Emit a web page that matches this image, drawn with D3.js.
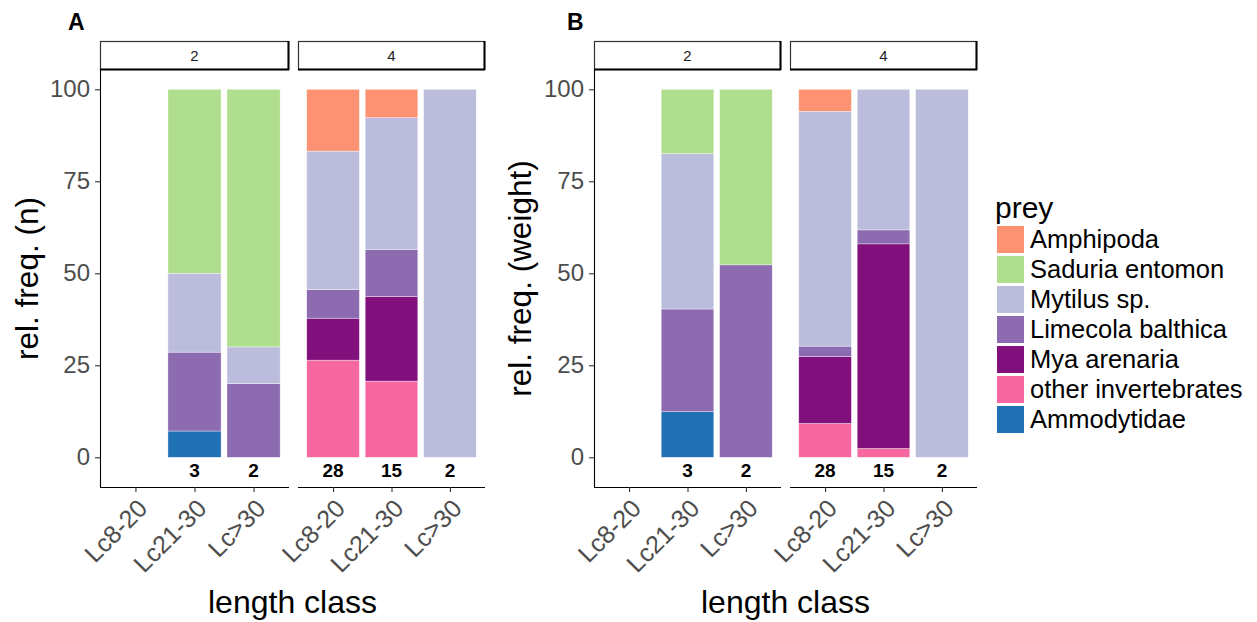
<!DOCTYPE html>
<html>
<head>
<meta charset="utf-8">
<script src="https://cdn.jsdelivr.net/npm/d3@7"></script>
<style>
  html, body { margin: 0; padding: 0; background: #ffffff; }
  svg { display: block; font-family: "Liberation Sans", Arial, sans-serif; }
</style>
</head>
<body>
<svg id="chart" width="1257" height="622"></svg>
<script>
// Length classes on the x axis and the two facets (strip labels)
const lengthClasses = ["Lc8-20", "Lc21-30", "Lc>30"];
const facetLabels = ["2", "4"];

// Prey categories, legend order (first one sits on top of each stack)
const preyTypes = ["Amphipoda", "Saduria entomon", "Mytilus sp.", "Limecola balthica",
                   "Mya arenaria", "other invertebrates", "Ammodytidae"];
const preyColors = ["#FC9272", "#AFDE8E", "#BCBDDC", "#8C6BB1", "#810F7C", "#F768A1", "#2171B5"];

// Sample sizes printed under each bar
const countsFacet2 = [null, 3, 2];
const countsFacet4 = [28, 15, 2];

// Relative frequency by number (%), one row per length class, columns follow preyTypes
const freqN_facet2 = [
  null,
  [0, 50, 21.43, 21.43, 0, 0, 7.14],
  [0, 70, 10, 20, 0, 0, 0]
];
const freqN_facet4 = [
  [16.8, 0, 37.6, 7.8, 11.4, 26.4, 0],
  [7.7, 0, 35.8, 12.8, 23.0, 20.7, 0],
  [0, 0, 100, 0, 0, 0, 0]
];

// Relative frequency by weight (%)
const freqW_facet2 = [
  null,
  [0, 17.5, 42.2, 27.9, 0, 0, 12.4],
  [0, 47.7, 0, 52.3, 0, 0, 0]
];
const freqW_facet4 = [
  [6.0, 0, 63.8, 2.8, 18.2, 9.2, 0],
  [0, 0, 38.2, 3.8, 55.6, 2.4, 0],
  [0, 0, 100, 0, 0, 0, 0]
];

const yTicks = [0, 25, 50, 75, 100];

const svg = d3.select("#chart");
const color = d3.scaleOrdinal().domain(preyTypes).range(preyColors);

// Shared vertical geometry
const stripTop = 41, stripBottom = 70, panelBottom = 487;
const y = d3.scaleLinear().domain([0, 100]).range([457.3, 89.3]);

function drawPanel(cfg) {
  const g = svg.append("g");

  // panel tag (A / B)
  g.append("text").attr("x", cfg.tagX).attr("y", 30)
    .attr("font-size", 23).attr("font-weight", "bold").attr("fill", "#000")
    .text(cfg.tag);

  cfg.facets.forEach((f, fi) => {
    const [x0, x1] = f.range;
    const x = d3.scalePoint().domain(lengthClasses).range([x0, x1]).padding(0.6);
    const bw = x.step() * 0.9;

    // strip
    const sg = g.append("g");
    sg.append("rect").attr("x", x0 + 0.5).attr("y", stripTop + 0.5)
      .attr("width", x1 - x0 - 1).attr("height", stripBottom - stripTop - 1)
      .attr("fill", "#ffffff").attr("stroke", "#333").attr("stroke-width", 1.2);
    sg.append("line").attr("x1", x1 - 0.5).attr("x2", x1 - 0.5)
      .attr("y1", stripTop).attr("y2", stripBottom)
      .attr("stroke", "#000").attr("stroke-width", 2);
    sg.append("line").attr("x1", x0).attr("x2", x1)
      .attr("y1", stripBottom - 0.5).attr("y2", stripBottom - 0.5)
      .attr("stroke", "#000").attr("stroke-width", 2);
    sg.append("text").attr("x", (x0 + x1) / 2).attr("y", (stripTop + stripBottom) / 2)
      .attr("dy", "0.35em").attr("text-anchor", "middle")
      .attr("font-size", 15).attr("fill", "#1a1a1a").text(facetLabels[fi]);

    // stacked bars: bottom is the last prey type
    const rows = [];
    f.values.forEach((v, i) => {
      if (!v) return;
      const row = { lc: lengthClasses[i] };
      preyTypes.forEach((p, j) => row[p] = v[j]);
      rows.push(row);
    });
    const stack = d3.stack().keys(preyTypes.slice().reverse());
    const series = stack(rows);
    const bars = g.append("g");
    series.forEach(s => {
      bars.selectAll(null).data(s.filter(d => d[1] - d[0] > 0)).enter().append("rect")
        .attr("x", d => x(d.data.lc) - bw / 2)
        .attr("width", bw)
        .attr("y", d => y(d[1]))
        .attr("height", d => y(d[0]) - y(d[1]))
        .attr("fill", color(s.key))
        .attr("stroke", "#ffffff").attr("stroke-opacity", 0.6).attr("stroke-width", 0.6);
    });

    // counts under bars
    g.append("g").selectAll("text").data(f.counts.map((c, i) => ({ c, lc: lengthClasses[i] })).filter(d => d.c !== null))
      .enter().append("text")
      .attr("x", d => x(d.lc)).attr("y", 470).attr("dy", "0.35em")
      .attr("text-anchor", "middle").attr("font-size", 19).attr("font-weight", "bold")
      .attr("fill", "#000").text(d => d.c);

    // x axis
    const xa = g.append("g").attr("transform", `translate(0,${panelBottom})`)
      .call(d3.axisBottom(x).tickSize(5).tickSizeOuter(0));
    xa.select(".domain").attr("stroke", "#000").attr("stroke-width", 1.1)
      .attr("d", `M${x0},0.5H${x1}`);
    xa.selectAll(".tick line").attr("stroke", "#333").attr("stroke-width", 1.1);
    xa.selectAll(".tick text")
      .attr("font-size", 25).attr("fill", "#4D4D4D")
      .attr("text-anchor", "end").attr("dy", null).attr("y", null)
      .attr("transform", "translate(13,23) rotate(-45)");

    // y axis on the first facet only
    if (fi === 0) {
      const ya = g.append("g").attr("transform", `translate(${x0},0)`)
        .call(d3.axisLeft(y).tickValues(yTicks).tickSize(5).tickPadding(5).tickSizeOuter(0));
      ya.select(".domain").attr("stroke", "#000").attr("stroke-width", 1.1)
        .attr("d", `M0.5,${stripBottom}V${panelBottom}`);
      ya.selectAll(".tick line").attr("stroke", "#333").attr("stroke-width", 1.1);
      ya.selectAll(".tick text").attr("font-size", 24).attr("fill", "#4D4D4D");
    }
  });

  // axis titles
  const px0 = cfg.facets[0].range[0], px1 = cfg.facets[1].range[1];
  g.append("text").attr("x", (px0 + px1) / 2).attr("y", 613)
    .attr("text-anchor", "middle").attr("font-size", 32).attr("fill", "#000")
    .text("length class");
  g.append("text")
    .attr("transform", `translate(${cfg.yTitleX},${(stripBottom + panelBottom) / 2}) rotate(-90)`)
    .attr("text-anchor", "middle").attr("font-size", 31.5).attr("fill", "#000")
    .text(cfg.yTitle);
}

drawPanel({
  tag: "A", tagX: 68, yTitle: "rel. freq. (n)", yTitleX: 38,
  facets: [
    { range: [100, 289], values: freqN_facet2, counts: countsFacet2 },
    { range: [298, 485], values: freqN_facet4, counts: countsFacet4 }
  ]
});

drawPanel({
  tag: "B", tagX: 567, yTitle: "rel. freq. (weight)", yTitleX: 531,
  facets: [
    { range: [594, 781], values: freqW_facet2, counts: countsFacet2 },
    { range: [790, 977], values: freqW_facet4, counts: countsFacet4 }
  ]
});

// legend
const legend = svg.append("g");
legend.append("text").attr("x", 995).attr("y", 218)
  .attr("font-size", 30).attr("fill", "#000").text("prey");
const items = legend.selectAll("g.item").data(preyTypes).enter().append("g")
  .attr("transform", (d, i) => `translate(997,${226 + i * 30})`);
items.append("rect").attr("width", 27).attr("height", 27).attr("fill", d => color(d));
items.append("text").attr("x", 33).attr("y", 13.5).attr("dy", "0.35em")
  .attr("font-size", 25.5).attr("fill", "#000").text(d => d);
</script>
</body>
</html>
